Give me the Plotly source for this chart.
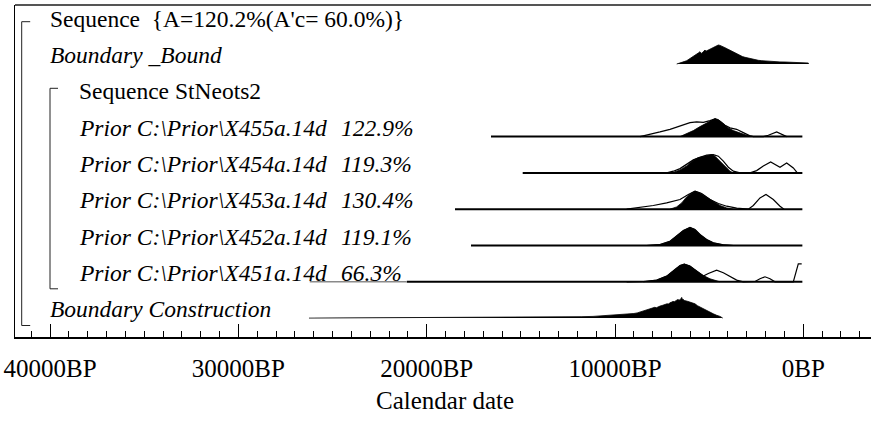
import plotly.graph_objects as go

# ---------------- data ----------------
tick_vals = [40000, 30000, 20000, 10000, 0]
tick_text = ["40000BP", "30000BP", "20000BP", "10000BP", "0BP"]

row_labels = [
    "Sequence\u00a0\u00a0{A=120.2%(A'c= 60.0%)}",
    "<i>Boundary _Bound</i>",
    "Sequence StNeots2",
    "<i>Prior C:\\Prior\\X455a.14d</i>",
    "<i>Prior C:\\Prior\\X454a.14d</i>",
    "<i>Prior C:\\Prior\\X453a.14d</i>",
    "<i>Prior C:\\Prior\\X452a.14d</i>",
    "<i>Prior C:\\Prior\\X451a.14d</i>",
    "<i>Boundary Construction</i>",
]
row_level = [0, 0, 1, 1, 1, 1, 1, 1, 0]
agreement = [None, None, None, "122.9%", "119.3%", "130.4%", "119.1%", "66.3%", None]

# prior ranges (cal BP) drawn as base lines
prior_start = {3: 16585, 4: 14902, 5: 18497, 6: 17647, 7: 21057}
prior_end = {3: 50, 4: 50, 5: 50, 6: 50, 7: 50}
faint_start_451 = 26209

# Boundary _Bound posterior (row 1)
bb_bp = [6723, 6600, 6458, 6330, 6192, 6060, 5927, 5800, 5661, 5560, 5486, 5440, 5396, 5308, 5250, 5220,
         5170, 5130, 5045, 4960, 4865, 4780, 4689, 4600, 4514, 4420, 4334, 4250, 4158, 4020, 3893, 3760,
         3627, 3490, 3362, 3230, 3097, 2920, 2740, 2560, 2390, 2200, 2034, 1760, 1503, 1240, 972, 620, 266, 0,
         -266, -270]
bb_p = [0.0, 0.05, 0.085, 0.12, 0.165, 0.24, 0.315, 0.40, 0.485, 0.56, 0.615, 0.53, 0.525, 0.62, 0.66, 0.70,
        0.64, 0.66, 0.665, 0.74, 0.785, 0.84, 0.885, 0.92, 0.95, 0.93, 0.90, 0.86, 0.815, 0.75, 0.685, 0.61,
        0.535, 0.47, 0.415, 0.37, 0.335, 0.29, 0.25, 0.215, 0.185, 0.165, 0.15, 0.13, 0.115, 0.105, 0.10, 0.09,
        0.085, 0.07, 0.05, 0.0]

# X455 (row 3)
x455_prior_bp = [8672, 8141, 7610, 7079, 6548, 6017, 5663, 5309, 4955, 4689, 4424, 4158, 3893, 3539, 3185,
                 2831, 2654, 2123, 1857, 1414, 883]
x455_prior_p = [0.0, 0.10, 0.235, 0.365, 0.515, 0.70, 0.735, 0.715, 0.80, 0.885, 0.765, 0.565, 0.435, 0.365,
                0.20, 0.035, 0.0, 0.0, 0.065, 0.235, 0.0]
x455_post_bp = [6548, 6194, 5840, 5486, 5132, 4866, 4689, 4512, 4247, 3981, 3716, 3362, 3007, 2654]
x455_post_p = [0.0, 0.135, 0.30, 0.50, 0.665, 0.815, 0.90, 0.85, 0.635, 0.435, 0.30, 0.165, 0.065, 0.0]

# X454 (row 4)
x454_prior_bp = [7256, 6902, 6548, 6194, 5840, 5486, 5132, 4778, 4512, 4247, 3981, 3716, 3362, 2831, 2477,
                 2123, 1733, 1237, 883, 529, 317]
x454_prior_p = [0.0, 0.085, 0.215, 0.415, 0.65, 0.785, 0.885, 0.915, 0.835, 0.585, 0.285, 0.085, 0.0, 0.0,
                0.115, 0.35, 0.55, 0.285, 0.50, 0.25, 0.0]
x454_post_bp = [6991, 6548, 6194, 5840, 5574, 5132, 4866, 4689, 4424, 4158, 3893, 3716]
x454_post_p = [0.0, 0.15, 0.35, 0.635, 0.765, 0.865, 0.915, 0.835, 0.585, 0.285, 0.085, 0.0]

# X453 (row 5)
x453_prior_bp = [9380, 8672, 7964, 7256, 6548, 6106, 5751, 5397, 4955, 4512, 4070, 3539, 2919, 2654, 2300,
                 1981, 1592, 1237, 1025]
x453_prior_p = [0.0, 0.085, 0.185, 0.315, 0.485, 0.735, 0.90, 0.785, 0.485, 0.285, 0.15, 0.05, 0.0, 0.185,
                0.565, 0.735, 0.485, 0.15, 0.0]
x453_post_bp = [7079, 6725, 6459, 6194, 5928, 5751, 5486, 5132, 4778, 4424, 4070, 3716]
x453_post_p = [0.0, 0.115, 0.315, 0.615, 0.815, 0.90, 0.815, 0.615, 0.385, 0.185, 0.065, 0.0]

# X452 (row 6)
x452_post_bp = [8318, 7610, 7079, 6725, 6371, 6017, 5751, 5486, 5132, 4778, 4247, 3716]
x452_post_p = [0.0, 0.05, 0.215, 0.465, 0.75, 0.90, 0.80, 0.55, 0.30, 0.135, 0.035, 0.0]

# X451 (row 7)
x451_prior_bp = [9380, 8495, 7787, 7256, 6814, 6548, 6318, 6017, 5663, 5309, 5043, 4601, 4247, 3893, 3539,
                 3185, 2565, 2300, 2034, 1769, 1503, 531, 266, 85]
x451_prior_p = [0.0, 0.015, 0.085, 0.285, 0.615, 0.815, 0.885, 0.785, 0.535, 0.285, 0.415, 0.585, 0.45,
                0.25, 0.085, 0.0, 0.015, 0.15, 0.25, 0.15, 0.0, 0.0, 0.90, 0.90]
x451_post_bp = [8495, 7787, 7256, 6814, 6548, 6318, 6017, 5663, 5309, 4955, 4601, 4424]
x451_post_p = [0.0, 0.085, 0.285, 0.615, 0.815, 0.885, 0.785, 0.535, 0.315, 0.15, 0.035, 0.0]

# Boundary Construction (row 8)
bc_bp = [26251, 21418, 17170, 14514, 12921, 11800, 11168, 10700, 10265, 9800, 9362, 9150, 9000, 8820, 8672,
         8480, 8300, 8140, 7982, 7890, 7800, 7700, 7610, 7500, 7420, 7238, 7160, 7100, 6990, 6919, 6850,
         6800, 6700, 6654, 6600, 6548, 6500, 6458, 6420, 6389, 6330, 6283, 6220, 6150, 6080, 6017, 5950,
         5880, 5800, 5752, 5620, 5486, 5400, 5300, 5220, 5130, 4950, 4780, 4600, 4424, 4280]
bc_p = [0.0, 0.015, 0.025, 0.04, 0.05, 0.07, 0.085, 0.11, 0.125, 0.15, 0.175, 0.20, 0.23, 0.26, 0.30,
        0.36, 0.42, 0.46, 0.50, 0.54, 0.52, 0.58, 0.60, 0.63, 0.66, 0.715, 0.70, 0.76, 0.80, 0.835, 0.82,
        0.86, 0.90, 0.935, 0.89, 0.92, 0.96, 1.035, 0.93, 0.95, 0.88, 0.885, 0.86, 0.84, 0.82, 0.80, 0.79,
        0.76, 0.74, 0.715, 0.62, 0.55, 0.52, 0.47, 0.43, 0.385, 0.30, 0.215, 0.14, 0.085, 0.0]

# ---------------- layout constants ----------------
W, H = 871, 425
L, R, T, B = 15, 0, 5, 88
ROW_PX = 36.3
ROW0_PX = 27.7          # baseline of first row (pixels from top)
PX_PER_YEAR = 0.01883
ZERO_PX = 803.3         # pixel of 0BP
SCALE = 20.0 / ROW_PX   # relative prob 1.0 -> 20 px

plot_h = H - T - B
y_top = (ROW0_PX - T) / ROW_PX
y_bot = y_top - plot_h / ROW_PX
x_left = (ZERO_PX - L) / PX_PER_YEAR
x_right = x_left - (W - L - R) / PX_PER_YEAR


def px_to_paper(px):
    return (px - L) / (W - L - R)


fig = go.Figure()


def add_fill(bp, p, row):
    fig.add_trace(go.Scatter(x=bp, y=[-row + v * SCALE for v in p], mode="lines", fill="toself",
                             fillcolor="black", line=dict(color="black", width=0.8), hoverinfo="skip"))


def add_outline(bp, p, row):
    fig.add_trace(go.Scatter(x=bp, y=[-row + v * SCALE for v in p], mode="lines",
                             line=dict(color="black", width=1.2), hoverinfo="skip"))


def add_base(x0, x1, row, color="black", width=2):
    fig.add_trace(go.Scatter(x=[x0, x1], y=[-row, -row], mode="lines",
                             line=dict(color=color, width=width), hoverinfo="skip"))


# base lines (prior ranges)
for r in prior_start:
    add_base(prior_start[r], prior_end[r], r)
add_base(faint_start_451, prior_start[7], 7, color="#8a8a8a", width=1.5)

add_fill(bb_bp, bb_p, 1)
add_fill(x455_post_bp, x455_post_p, 3)
add_outline(x455_prior_bp, x455_prior_p, 3)
add_fill(x454_post_bp, x454_post_p, 4)
add_outline(x454_prior_bp, x454_prior_p, 4)
add_fill(x453_post_bp, x453_post_p, 5)
add_outline(x453_prior_bp, x453_prior_p, 5)
add_fill(x452_post_bp, x452_post_p, 6)
add_outline(x452_post_bp, x452_post_p, 6)
add_fill(x451_post_bp, x451_post_p, 7)
add_outline(x451_prior_bp, x451_prior_p, 7)
add_fill(bc_bp, bc_p, 8)

FAMILY = "Liberation Serif"
LABEL_FONT = dict(family=FAMILY, size=23.5, color="black")
AXIS_FONT = dict(family=FAMILY, size=25, color="black")

annotations = []
for i, lab in enumerate(row_labels):
    annotations.append(dict(text=lab, xref="paper", x=px_to_paper(48 if row_level[i] == 0 else 77),
                            yref="y", y=-i, xanchor="left", yanchor="bottom", yshift=-6,
                            showarrow=False, font=LABEL_FONT))
    if agreement[i]:
        annotations.append(dict(text="<i>" + agreement[i] + "</i>", xref="paper", x=px_to_paper(339),
                                yref="y", y=-i, xanchor="left", yanchor="bottom", yshift=-6,
                                showarrow=False, font=LABEL_FONT))
annotations.append(dict(text="Calendar date", xref="paper", x=px_to_paper(445), yref="paper",
                        y=(plot_h - (416 - T)) / plot_h, xanchor="center", yanchor="bottom",
                        showarrow=False, font=AXIS_FONT))

# brackets for sequences
shapes = []
def bracket(px, top_y, bot_y, arm):
    x0 = px_to_paper(px)
    x1 = px_to_paper(px + arm)
    line = dict(color="#222222", width=1)
    shapes.append(dict(type="line", xref="paper", yref="y", x0=x0, x1=x0, y0=top_y, y1=bot_y, line=line))
    shapes.append(dict(type="line", xref="paper", yref="y", x0=x0, x1=x1, y0=top_y, y1=top_y, line=line))
    shapes.append(dict(type="line", xref="paper", yref="y", x0=x0, x1=x1, y0=bot_y, y1=bot_y, line=line))

bracket(21.7, 6 / ROW_PX, -8 - 7.4 / ROW_PX, 8.5)
bracket(50, -2 + 12 / ROW_PX, -7 - 7 / ROW_PX, 8)
# top frame line
shapes.append(dict(type="line", xref="paper", yref="paper", x0=0, x1=1, y0=1, y1=1,
                   line=dict(color="#555555", width=2)))

fig.update_layout(
    width=W, height=H,
    margin=dict(l=L, r=R, t=T, b=B, pad=0),
    paper_bgcolor="white", plot_bgcolor="white",
    showlegend=False,
    annotations=annotations,
    shapes=shapes,
    xaxis=dict(range=[x_left, x_right], tickmode="array", tickvals=tick_vals, ticktext=tick_text,
               ticks="inside", ticklen=13, tickwidth=1, tickcolor="black",
               showgrid=False, zeroline=False, showline=True, linecolor="black", linewidth=1.5,
               tickfont=AXIS_FONT, ticklabelstandoff=8,
               minor=dict(dtick=1000, tick0=0, ticks="inside", ticklen=6, tickwidth=1,
                          tickcolor="black", showgrid=False)),
    yaxis=dict(range=[y_bot, y_top], showgrid=False, zeroline=False, showticklabels=False,
               showline=True, linecolor="black", linewidth=1, ticks=""),
)

fig.write_html("out.html", config={"displayModeBar": False},
               post_script="document.body.style.margin='0';document.body.style.padding='0';")
